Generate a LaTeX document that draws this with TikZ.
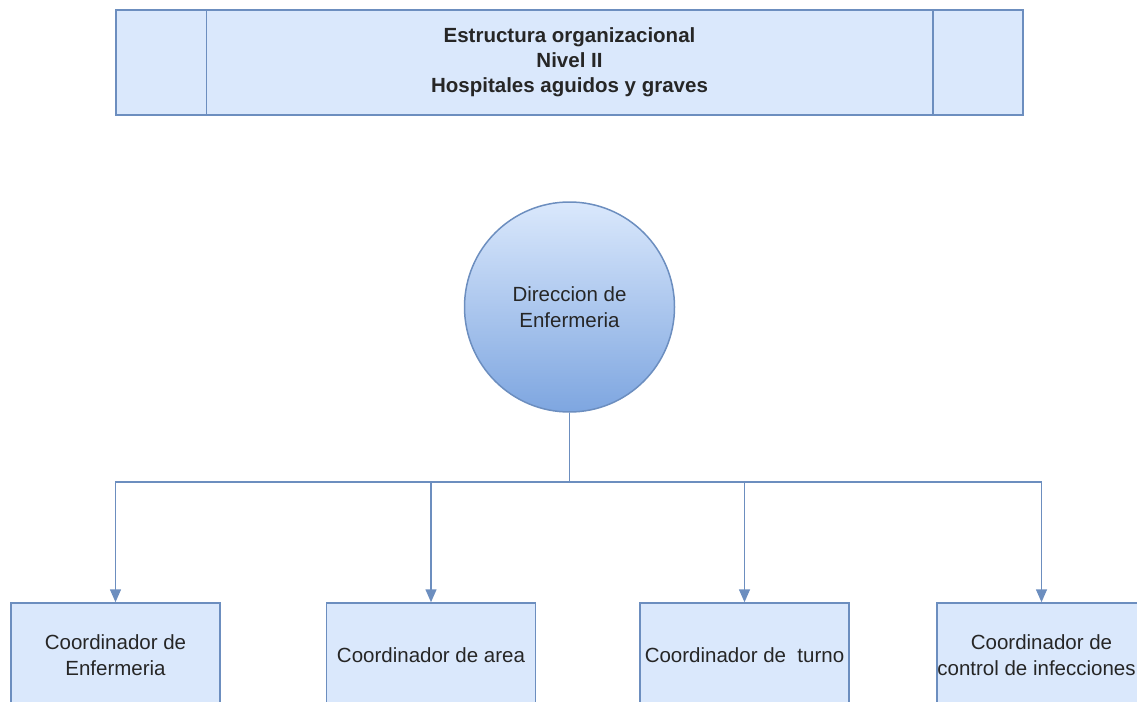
\documentclass[tikz,border=0pt]{standalone}
\usepackage{fontspec}
\setmainfont{Liberation Sans}
\usetikzlibrary{arrows.meta}
\usetikzlibrary{positioning}
\definecolor{cajafondo}{HTML}{DAE8FC}
\definecolor{cajaborde}{HTML}{6C8EBF}
\definecolor{circabajo}{HTML}{7EA6E0}
\tikzset{
	texto/.style={align=center,text=black!85,font=\fontsize{20.5}{26}\selectfont},
	titulo/.style={texto,draw=cajaborde,fill=cajafondo,line width=1.5pt,minimum width=907pt,minimum height=105pt,font=\fontsize{20.5}{25}\selectfont\bfseries},
	direccion/.style={texto,circle,draw=cajaborde,line width=1.5pt,minimum size=210pt,top color=cajafondo,bottom color=circabajo},
	cargo/.style={texto,draw=cajaborde,fill=cajafondo,line width=1.5pt,minimum width=209pt,minimum height=104pt,inner sep=1pt},
	linea/.style={draw=cajaborde,line width=1.5pt},
	enlace/.style={linea,-{Triangle[length=13pt,width=11pt]}}
}
\begin{document}
\begin{tikzpicture}[x=1pt,y=-1pt]
		\clip (0,0) rectangle (1137,701);
		\node[titulo] (titulo) at (569.5,62.5) {Estructura organizacional\\Nivel II\\Hospitales aguidos y graves};
		\draw[linea] ([xshift=91pt]titulo.north west) -- ([xshift=91pt]titulo.south west)
		([xshift=-91pt]titulo.north east) -- ([xshift=-91pt]titulo.south east);
		\node[direccion] (dir) at (569.5,307) {Direccion de\\Enfermeria};
		\node[cargo] (enf) at (115.5,655) {Coordinador de\\Enfermeria};
		\node[cargo] (area) at (431,655) {Coordinador de area};
		\node[cargo] (turno) at (744.5,655) {Coordinador de\ \ turno};
		\node[cargo] (infec) at (1041.5,655) {Coordinador de\\\hspace*{-10pt}control de infecciones};
		\coordinate (bus) at (569.5,482);
		\draw[linea] (dir.south) -- (bus);
		\draw[enlace] (bus) -| (enf.north);
		\draw[enlace] (bus) -| (area.north);
		\draw[enlace] (bus) -| (turno.north);
		\draw[enlace] (bus) -| (infec.north);
	\end{tikzpicture}
\end{document}
